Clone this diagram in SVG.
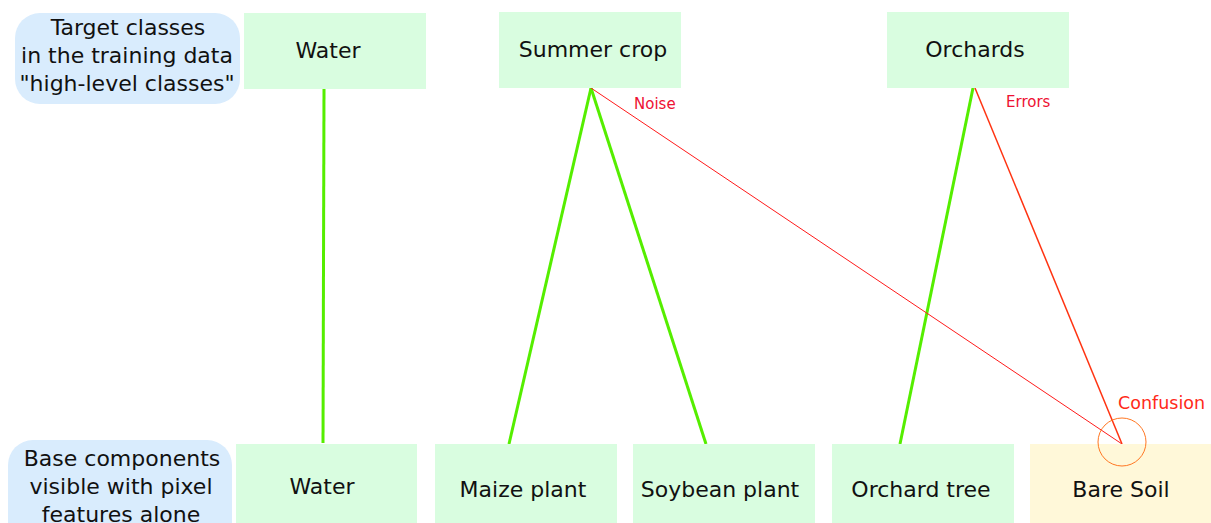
<svg xmlns="http://www.w3.org/2000/svg" width="1211" height="523" viewBox="0 0 1211 523">
<style>
text{font-family:"DejaVu Sans","Liberation Sans",sans-serif;fill:#111;}
.lbl{font-size:22px;text-anchor:middle;}
.box{fill:#d9fde0;}
.soil{fill:#fff8d9;}
.info{fill:#d9ecfd;}
.ok{stroke:#55ee00;stroke-width:3;fill:none;}
.bad{stroke:#ff1a1a;stroke-width:1;fill:none;}
.note{font-size:15px;fill:#ee1133;}
</style>
<rect width="1211" height="523" fill="#fff"/>
<g id="connectors">
<line class="ok" x1="324" y1="89" x2="323" y2="443"/>
<line class="ok" x1="591" y1="88" x2="509" y2="444"/>
<line class="ok" x1="591" y1="88" x2="706" y2="444"/>
<line class="ok" x1="973" y1="88" x2="900" y2="444"/>
<line class="bad" x1="591" y1="88" x2="1122" y2="444"/>
<line class="bad" x1="975" y1="88" x2="1122" y2="444" style="stroke:#ff3311;stroke-width:1.5"/>
</g>
<g id="top-legend"><rect class="info" x="15" y="13" width="225" height="91" rx="25"/>
<text class="lbl" x="128" y="35">Target classes</text>
<text class="lbl" x="127" y="63">in the training data</text>
<text class="lbl" x="127" y="91">"high-level classes"</text></g>
<g id="top-water"><rect class="box" x="244" y="13" width="182" height="76"/><text class="lbl" x="328" y="58">Water</text></g>
<g id="summer-crop"><rect class="box" x="499" y="12" width="182" height="76"/><text class="lbl" x="593" y="57">Summer crop</text></g>
<g id="orchards"><rect class="box" x="887" y="12" width="182" height="76"/><text class="lbl" x="975" y="57">Orchards</text></g>
<g id="bottom-legend"><rect class="info" x="8" y="440" width="224" height="110" rx="25"/>
<text class="lbl" x="122" y="466">Base components</text>
<text class="lbl" x="121" y="494">visible with pixel</text>
<text class="lbl" x="121" y="522">features alone</text></g>
<g id="bottom-water"><rect class="box" x="236" y="444" width="181" height="80"/><text class="lbl" x="322" y="494">Water</text></g>
<g id="maize"><rect class="box" x="435" y="444" width="182" height="80"/><text class="lbl" x="523" y="497">Maize plant</text></g>
<g id="soybean"><rect class="box" x="633" y="444" width="182" height="80"/><text class="lbl" x="720" y="497">Soybean plant</text></g>
<g id="orchard-tree"><rect class="box" x="832" y="444" width="182" height="80"/><text class="lbl" x="921" y="497">Orchard tree</text></g>
<g id="bare-soil"><rect class="soil" x="1030" y="444" width="181" height="80"/><text class="lbl" x="1121" y="497">Bare Soil</text></g>
<g id="annotations">
<text class="note" x="634" y="109">Noise</text>
<text class="note" x="1006" y="107">Errors</text>
<circle cx="1122" cy="442" r="24" fill="none" stroke="#ff7722" stroke-width="1"/>
<text class="note" x="1118" y="409" style="font-size:17.5px;fill:#ff2a1a">Confusion</text>
</g>
</svg>
